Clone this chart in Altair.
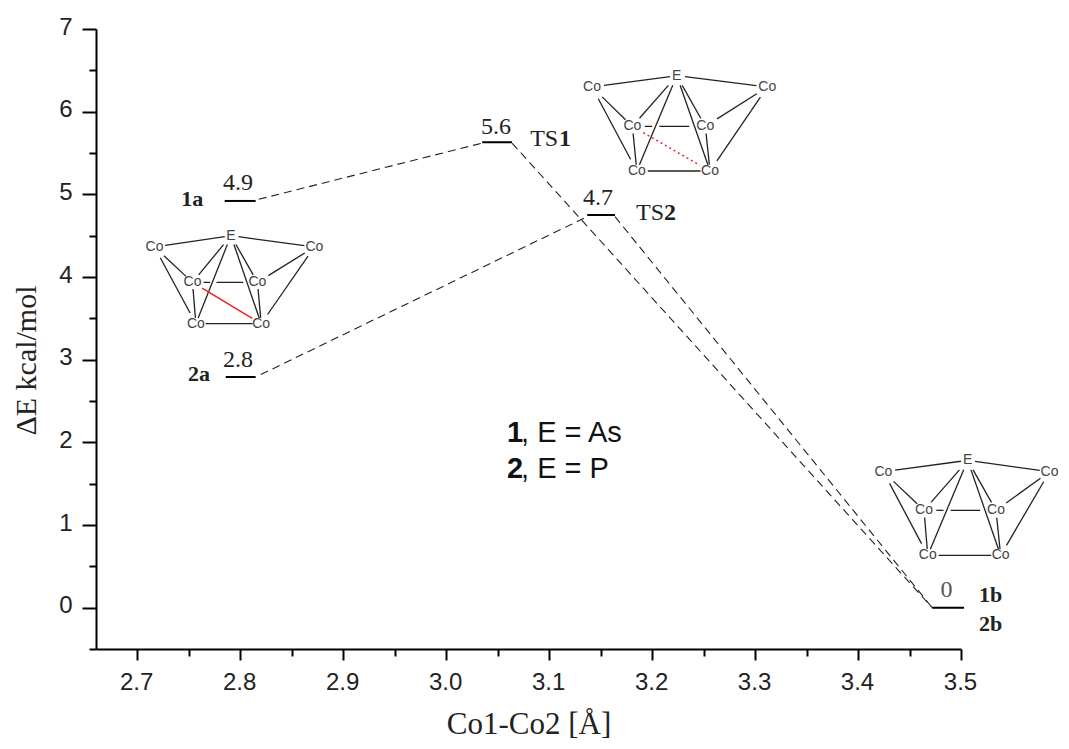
import altair as alt
import pandas as pd

# axes
X_DOMAIN = [2.66, 3.5]
Y_DOMAIN = [-0.5, 7]
X_TICKS = [2.7, 2.75, 2.8, 2.85, 2.9, 2.95, 3.0, 3.05, 3.1, 3.15, 3.2, 3.25, 3.3, 3.35, 3.4, 3.45, 3.5]
Y_TICKS = [-0.5, 0, 0.5, 1, 1.5, 2, 2.5, 3, 3.5, 4, 4.5, 5, 5.5, 6, 6.5, 7]

# energy levels: label, x start, x end, energy
LEVEL_NAMES = ["1a", "2a", "TS1", "TS2", "b"]
LEVEL_X1 = [2.785, 2.786, 3.035, 3.137, 3.472]
LEVEL_X2 = [2.815, 2.815, 3.064, 3.164, 3.503]
LEVEL_E = [4.92, 2.79, 5.63, 4.75, 0.0]

# dashed connectors
DASH_X1 = [2.818, 2.82, 3.064, 3.164]
DASH_Y1 = [4.94, 2.82, 5.62, 4.73]
DASH_X2 = [3.035, 3.137, 3.472, 3.472]
DASH_Y2 = [5.62, 4.73, 0.0, 0.0]

# text labels
VALUE_TEXT = ["4.9", "2.8", "5.6", "4.7", "0"]
VALUE_X = [2.798, 2.798, 3.0485, 3.1476, 3.486]
VALUE_Y = [5.048, 2.915, 5.734, 4.866, 0.133]
VALUE_COLOR = ["#222222", "#222222", "#222222", "#222222", "#555555"]

BOLD_TEXT = ["1a", "2a", "1b", "2b"]
BOLD_X = [2.7534, 2.760, 3.5288, 3.5288]
BOLD_Y = [4.855, 2.737, 0.0726, -0.287]
TS_TEXT = ["TS", "TS"]
TS_X = [3.0816, 3.1845]
TS_Y = [5.580, 4.685]
TS_NUM = ["1", "2"]
TS_NUM_X = [3.1097, 3.2117]

NOTE_BOLD = ["1", "2"]
NOTE_BOLD_X = [3.0592, 3.0592]
NOTE_PLAIN = [", E = As", ", E = P"]
NOTE_PLAIN_X = [3.0728, 3.0728]
NOTE_Y = [2.0, 1.573]

# cluster atoms: E, Co(L), Co(R), Co(A), Co(B), Co(C), Co(D)
ATOMS = ["E", "L", "R", "A", "B", "C", "D"]
M1_X = [2.7910, 2.7168, 2.8721, 2.7537, 2.8168, 2.7570, 2.8204]
M1_Y = [4.500, 4.363, 4.363, 3.935, 3.935, 3.435, 3.435]
M2_X = [3.2240, 3.1417, 3.3119, 3.1809, 3.2517, 3.1852, 3.2563]
M2_Y = [6.435, 6.298, 6.298, 5.822, 5.822, 5.282, 5.282]
M3_X = [3.5065, 3.4246, 3.586, 3.4641, 3.5340, 3.4677, 3.5385]
M3_Y = [1.782, 1.645, 1.645, 1.177, 1.177, 0.633, 0.633]

# bonds: from, to, visible fraction start, visible fraction end
BONDS = [
    ("E", "L", 0.08, 0.86), ("E", "R", 0.09, 0.88), ("E", "A", 0.19, 0.84),
    ("E", "B", 0.19, 0.84), ("E", "C", 0.10, 0.935), ("E", "D", 0.10, 0.935),
    ("L", "A", 0.25, 0.83), ("L", "C", 0.14, 0.86), ("R", "B", 0.17, 0.81),
    ("R", "D", 0.12, 0.88), ("A", "C", 0.16, 0.86), ("B", "D", 0.16, 0.86),
    ("C", "D", 0.15, 0.87), ("A", "B", 0.17, 0.27), ("A", "B", 0.37, 0.78),
]
RED_BOND = ("A", "D", 0.14, 0.87)


def bond_rows(xs, ys, bonds):
    px = dict(zip(ATOMS, xs))
    py = dict(zip(ATOMS, ys))
    rows = []
    for a, b, t0, t1 in bonds:
        rows.append({
            "x": px[a] + (px[b] - px[a]) * t0, "y": py[a] + (py[b] - py[a]) * t0,
            "x2": px[a] + (px[b] - px[a]) * t1, "y2": py[a] + (py[b] - py[a]) * t1,
        })
    return pd.DataFrame(rows)


major_x = "abs(datum.value*10-round(datum.value*10))<0.01"
major_y = "abs(datum.value-round(datum.value))<0.01"

x_scale = alt.Scale(domain=X_DOMAIN, nice=False, zero=False)
y_scale = alt.Scale(domain=Y_DOMAIN, nice=False, zero=False)

x_axis = alt.Axis(
    values=X_TICKS, title="Co1-Co2 [Å]", grid=False, domainColor="black", domainWidth=2,
    tickColor="black", tickWidth=2,
    tickSize={"condition": {"test": major_x, "value": 11}, "value": 7},
    labelExpr=f"{major_x} ? format(datum.value,'.1f') : ''",
    labelFont="Liberation Sans", labelFontSize=24, labelColor="#222222", labelPadding=10,
    labelOffset=-1, labelOverlap=False, labelFlush=False,
    titleFont="Liberation Serif", titleFontSize=31, titleFontWeight="normal", titleColor="#222222",
    titlePadding=15,
)
y_axis = alt.Axis(
    values=Y_TICKS, title="ΔE kcal/mol", grid=False, domainColor="black", domainWidth=2,
    tickColor="black", tickWidth=2,
    tickSize={"condition": {"test": major_y, "value": 14}, "value": 7},
    labelExpr=f"{major_y} ? format(datum.value,'d') : ''",
    labelFont="Liberation Sans", labelFontSize=24, labelColor="#222222", labelPadding=10,
    labelOffset=-2, labelOverlap=False, labelFlush=False,
    titleFont="Liberation Serif", titleFontSize=30, titleFontWeight="normal", titleColor="#222222",
    titlePadding=17, titleY=331,
)

levels = pd.DataFrame({"x": LEVEL_X1, "x2": LEVEL_X2, "y": LEVEL_E, "y2": LEVEL_E, "name": LEVEL_NAMES})
level_layer = alt.Chart(levels).mark_rule(color="black", strokeWidth=2).encode(
    x=alt.X("x:Q", scale=x_scale, axis=x_axis), x2="x2:Q",
    y=alt.Y("y:Q", scale=y_scale, axis=y_axis), y2="y2:Q",
)

dashes = pd.DataFrame({"x": DASH_X1, "x2": DASH_X2, "y": DASH_Y1, "y2": DASH_Y2})
dash_layer = alt.Chart(dashes).mark_rule(color="#222222", strokeWidth=1.1, strokeDash=[8, 5]).encode(
    x=alt.X("x:Q", scale=x_scale), x2="x2:Q", y=alt.Y("y:Q", scale=y_scale), y2="y2:Q",
)


def rule_layer(df, **style):
    return alt.Chart(df).mark_rule(**style).encode(
        x=alt.X("x:Q", scale=x_scale), x2="x2:Q", y=alt.Y("y:Q", scale=y_scale), y2="y2:Q",
    )


def text_layer(df, **style):
    return alt.Chart(df).mark_text(**style).encode(
        x=alt.X("x:Q", scale=x_scale), y=alt.Y("y:Q", scale=y_scale), text="t:N",
    )


layers = [level_layer, dash_layer]
for xs, ys in [(M1_X, M1_Y), (M2_X, M2_Y), (M3_X, M3_Y)]:
    layers.append(rule_layer(bond_rows(xs, ys, BONDS), color="#222222", strokeWidth=1.3))
    labels = ["E" if a == "E" else "Co" for a in ATOMS]
    layers.append(text_layer(pd.DataFrame({"x": xs, "y": ys, "t": labels}),
                             font="Liberation Sans", fontSize=14, color="#444444",
                             align="center", baseline="middle"))
layers.append(rule_layer(bond_rows(M1_X, M1_Y, [RED_BOND]), color="#ee2020", strokeWidth=1.5))
layers.append(rule_layer(bond_rows(M2_X, M2_Y, [RED_BOND]), color="#ee2020", strokeWidth=1.5, strokeDash=[2, 3]))

for i in range(len(VALUE_TEXT)):
    layers.append(text_layer(pd.DataFrame({"x": [VALUE_X[i]], "y": [VALUE_Y[i]], "t": [VALUE_TEXT[i]]}),
                             font="Liberation Serif", fontSize=24, color=VALUE_COLOR[i],
                             align="center", baseline="alphabetic"))
layers.append(text_layer(pd.DataFrame({"x": BOLD_X, "y": BOLD_Y, "t": BOLD_TEXT}),
                         font="Liberation Serif", fontSize=22, fontWeight="bold", color="#222222",
                         align="center", baseline="alphabetic"))
layers.append(text_layer(pd.DataFrame({"x": TS_X, "y": TS_Y, "t": TS_TEXT}),
                         font="Liberation Serif", fontSize=24, color="#222222",
                         align="left", baseline="alphabetic"))
layers.append(text_layer(pd.DataFrame({"x": TS_NUM_X, "y": TS_Y, "t": TS_NUM}),
                         font="Liberation Serif", fontSize=24, fontWeight="bold", color="#222222",
                         align="left", baseline="alphabetic"))
layers.append(text_layer(pd.DataFrame({"x": NOTE_BOLD_X, "y": NOTE_Y, "t": NOTE_BOLD}),
                         font="Liberation Sans", fontSize=29, fontWeight="bold", color="#111111",
                         align="left", baseline="alphabetic"))
layers.append(text_layer(pd.DataFrame({"x": NOTE_PLAIN_X, "y": NOTE_Y, "t": NOTE_PLAIN}),
                         font="Liberation Sans", fontSize=29, color="#111111",
                         align="left", baseline="alphabetic"))

chart = alt.layer(*layers).properties(
    width=865, height=620,
    autosize=alt.AutoSizeParams(type="none"),
    padding={"left": 88, "top": 21, "right": 100, "bottom": 92},
).configure_view(stroke=None)

chart.save("out.html", embed_options={"renderer": "svg", "actions": False})
